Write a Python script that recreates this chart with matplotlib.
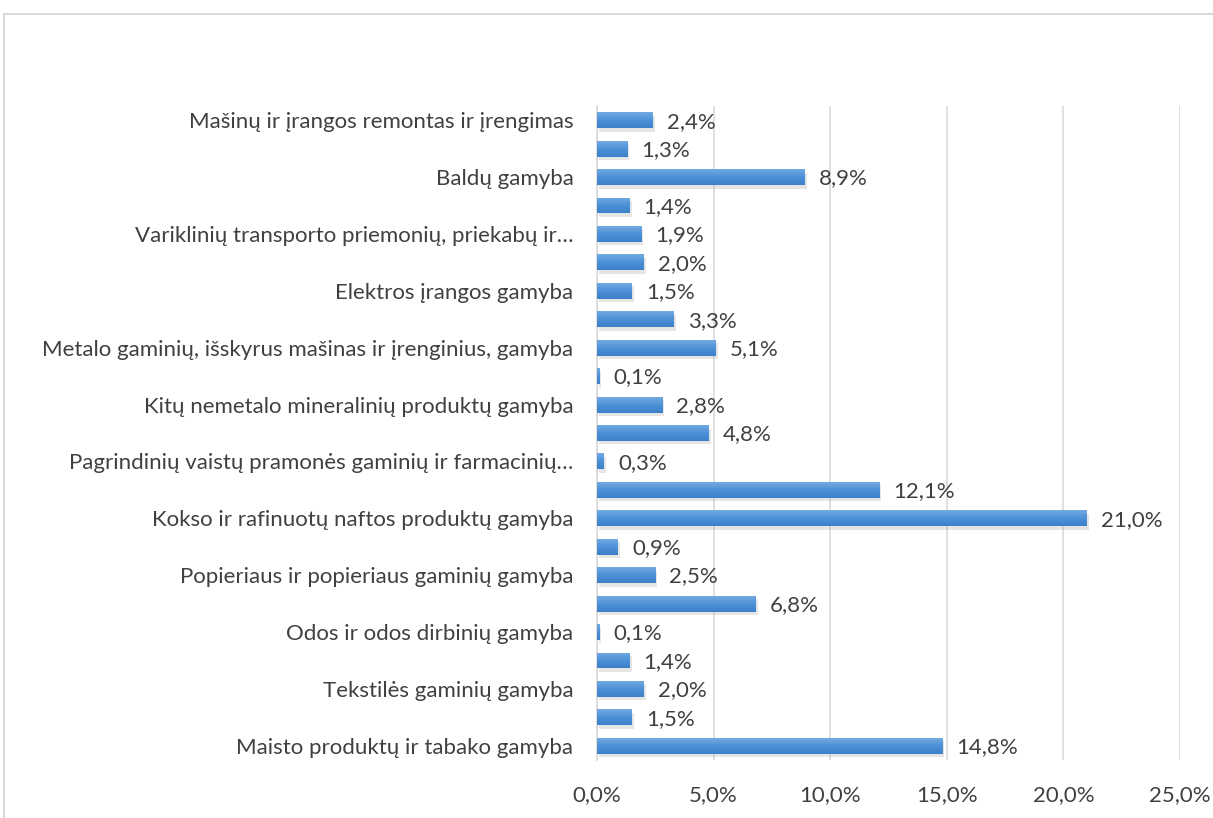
import matplotlib
matplotlib.use("Agg")
import matplotlib.pyplot as plt
import matplotlib.patheffects as pe
from matplotlib.patches import Rectangle
from matplotlib.colors import LinearSegmentedColormap
import numpy as np

# Industry labels (bottom to top); blank entries carry no tick text
categories = [
    "Maisto produktų ir tabako gamyba",
    "",
    "Tekstilės gaminių gamyba",
    "",
    "Odos ir odos dirbinių gamyba",
    "",
    "Popieriaus ir popieriaus gaminių gamyba",
    "",
    "Kokso ir rafinuotų naftos produktų gamyba",
    "",
    "Pagrindinių vaistų pramonės gaminių ir farmacinių…",
    "",
    "Kitų nemetalo mineralinių produktų gamyba",
    "",
    "Metalo gaminių, išskyrus mašinas ir įrenginius, gamyba",
    "",
    "Elektros įrangos gamyba",
    "",
    "Variklinių transporto priemonių, priekabų ir…",
    "",
    "Baldų gamyba",
    "",
    "Mašinų ir įrangos remontas ir įrengimas",
]
shares = [14.8, 1.5, 2.0, 1.4, 0.1, 6.8, 2.5, 0.9, 21.0, 12.1, 0.3, 4.8,
          2.8, 0.1, 5.1, 3.3, 1.5, 2.0, 1.9, 1.4, 8.9, 1.3, 2.4]
x_ticks = [0, 5, 10, 15, 20, 25]

FONT = ["Lato", "DejaVu Sans"]
TEXT = "#404040"
FS = 16
plt.rcParams["font.family"] = FONT

fig = plt.figure(figsize=(12.13, 8.18), dpi=100)
# chart frame
fig.patches.append(Rectangle((4 / 1213, -0.1), 1.2, 1 - 14 / 818 + 0.1,
                             transform=fig.transFigure, fill=False,
                             edgecolor="#d9d9d9", linewidth=1.5))

ax = fig.add_axes([597 / 1213, 1 - 760 / 818, 583 / 1213, 654 / 818])
y = np.arange(len(categories))
bar_h = 0.56

bars = ax.barh(y, shares, height=bar_h, color="#4a8fd6", zorder=3,
               path_effects=[pe.SimplePatchShadow(offset=(1.5, -2.5),
                                                  shadow_rgbFace="#9a9a9a",
                                                  alpha=0.25),
                             pe.Normal()])

# vertical gradient on each bar
cmap = LinearSegmentedColormap.from_list("bar", ["#72aae0", "#4d91d8", "#3d80c9"])
grad = np.linspace(0, 1, 64).reshape(-1, 1)
for b in bars:
    x0, y0 = b.get_x(), b.get_y()
    w, h = b.get_width(), b.get_height()
    im = ax.imshow(grad, cmap=cmap, aspect="auto", origin="upper",
                   extent=(x0, x0 + w, y0, y0 + h), zorder=4)
    im.set_clip_path(b)

for yi, v in zip(y, shares):
    ax.annotate(f"{v:.1f}%".replace(".", ","), (v, yi), xytext=(10, -1),
                textcoords="offset points", va="center", ha="left",
                fontsize=FS, color=TEXT, zorder=5)

ax.set_xlim(0, 25)
ax.set_ylim(-0.5, len(categories) - 0.5)
ax.set_xticks(x_ticks)
ax.set_xticklabels([f"{t:.1f}%".replace(".", ",") for t in x_ticks],
                   fontsize=FS, color=TEXT)
ax.set_yticks(y)
ax.set_yticklabels(categories, fontsize=FS, color=TEXT)
ax.tick_params(axis="x", length=0, pad=18)
ax.tick_params(axis="y", length=0, pad=17)
ax.grid(axis="x", color="#d9d9d9", linewidth=1.2, zorder=0)
for s in ["top", "right", "bottom"]:
    ax.spines[s].set_visible(False)
ax.spines["left"].set_color("#d9d9d9")
ax.spines["left"].set_linewidth(1.2)
ax.set_axisbelow(True)

fig.savefig("out.png", dpi=100)
